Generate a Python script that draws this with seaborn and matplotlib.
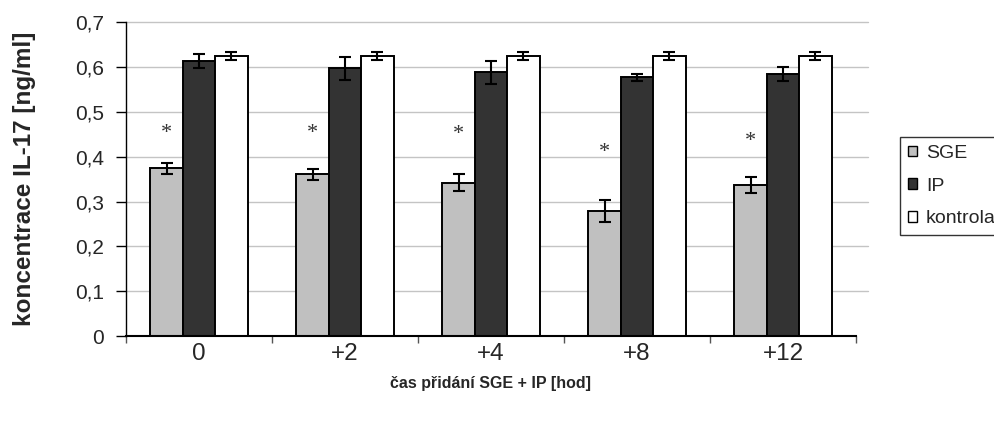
import numpy as np
import pandas as pd
import matplotlib
matplotlib.use("Agg")
import matplotlib.pyplot as plt
import seaborn as sns
from matplotlib import font_manager

categories = ["0", "+2", "+4", "+8", "+12"]
series = ["SGE", "IP", "kontrola"]
sge = [0.374, 0.361, 0.342, 0.279, 0.337]
ip = [0.614, 0.597, 0.588, 0.577, 0.585]
ctrl = [0.625, 0.625, 0.625, 0.625, 0.625]
sge_err = [0.013, 0.012, 0.019, 0.024, 0.017]
ip_err = [0.016, 0.025, 0.025, 0.008, 0.016]
ctrl_err = [0.009, 0.009, 0.009, 0.009, 0.009]
star_y = [0.452, 0.452, 0.450, 0.410, 0.435]
yticks = [0, 0.1, 0.2, 0.3, 0.4, 0.5, 0.6, 0.7]
ytick_labels = ["0", "0,1", "0,2", "0,3", "0,4", "0,5", "0,6", "0,7"]

sns.set_theme(style="white")
plt.rcParams['font.family'] = ['Liberation Sans', 'DejaVu Sans']

names = {f.name for f in font_manager.fontManager.ttflist}
narrow_ok = 'Liberation Sans Narrow' in names
narrow = ['Liberation Sans Narrow', 'Liberation Sans', 'DejaVu Sans'] if narrow_ok else ['Liberation Sans', 'DejaVu Sans']

df = pd.DataFrame({
    "cas": categories * 3,
    "skupina": ["SGE"] * 5 + ["IP"] * 5 + ["kontrola"] * 5,
    "hodnota": sge + ip + ctrl,
})
errs = sge_err + ip_err + ctrl_err

fig = plt.figure(figsize=(9.94, 4.26), dpi=100)
ax = fig.add_axes([0.12676, 0.211, 0.7344, 0.737])

palette = {"SGE": "#c0c0c0", "IP": "#333333", "kontrola": "#ffffff"}
sns.barplot(data=df, x="cas", y="hodnota", hue="skupina", hue_order=series,
            order=categories, palette=palette, width=0.666, edgecolor="black",
            linewidth=1.4, errorbar=None, ax=ax, legend=True, saturation=1)

bars = [p for p in ax.patches if p.get_height() > 0][:15]
for p, e in zip(bars, errs):
    xc = p.get_x() + p.get_width() / 2
    ax.errorbar(xc, p.get_height(), yerr=e, fmt="none", ecolor="black",
                elinewidth=1.5, capsize=4.5, capthick=1.5, zorder=5)

for p, sy in zip(bars[:5], star_y):
    xc = p.get_x() + p.get_width() / 2
    ax.text(xc, sy, "*", ha="center", va="center", fontsize=16,
            family=["Liberation Serif", "DejaVu Serif"], color="#333333")

ax.set_ylim(0, 0.7)
ax.set_xlim(-0.5, 4.5)
ax.set_yticks(yticks)
ax.set_yticklabels(ytick_labels, fontsize=15)
# gridlines (extend slightly past the last category like the original)
for yv in yticks[1:]:
    ax.axhline(yv, xmin=0, xmax=1.0 + 12 / 730, color="#c4c4c4",
               linewidth=1, zorder=0, clip_on=False)
ax.set_axisbelow(True)
ax.tick_params(axis="y", left=True, length=7, width=1, color="black", pad=9)
ax.tick_params(axis="x", which="major", length=0, labelsize=17.5, pad=5)
ax.set_xticks(np.arange(-0.5, 5.0, 1.0), minor=True)
ax.tick_params(axis="x", which="minor", bottom=True, length=5, width=1, color="#555555")
for s in ["top", "right"]:
    ax.spines[s].set_visible(False)
ax.spines["left"].set_color("black")
ax.spines["bottom"].set_color("black")
ax.spines["bottom"].set_linewidth(1.5)
ax.spines["left"].set_linewidth(1)

ax.set_xlabel("čas přidání SGE + IP [hod]", fontsize=13 if narrow_ok else 11.5,
              fontweight="bold", family=narrow, labelpad=8)
ax.set_ylabel("koncentrace IL-17 [ng/ml]", fontsize=17.5, fontweight="bold", labelpad=28)

leg = ax.legend(loc="upper left", bbox_to_anchor=(0.9054, 0.678),
                bbox_transform=fig.transFigure, frameon=True, fancybox=False,
                fontsize=14, handlelength=0.48, handleheight=0.48,
                handletextpad=0.45, labelspacing=0.8, borderpad=0.4,
                borderaxespad=0)
leg.get_frame().set_edgecolor("black")
leg.get_frame().set_linewidth(1)
for h in leg.legend_handles:
    h.set_edgecolor("black")
    h.set_linewidth(1)

fig.savefig("out.png", dpi=100)
